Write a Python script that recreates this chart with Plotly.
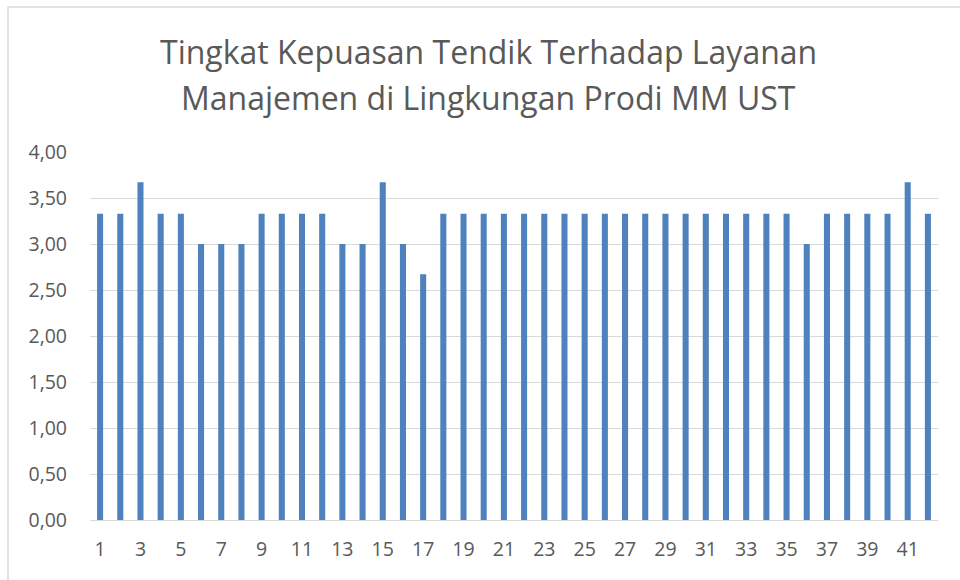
import plotly.graph_objects as go

respondents = list(range(1, 43))
scores = [3.33, 3.33, 3.67, 3.33, 3.33, 3.00, 3.00, 3.00, 3.33, 3.33,
          3.33, 3.33, 3.00, 3.00, 3.67, 3.00, 2.67, 3.33, 3.33, 3.33,
          3.33, 3.33, 3.33, 3.33, 3.33, 3.33, 3.33, 3.33, 3.33, 3.33,
          3.33, 3.33, 3.33, 3.33, 3.33, 3.00, 3.33, 3.33, 3.33, 3.33,
          3.67, 3.33]
x_ticks = list(range(1, 42, 2))
y_ticks = [0, 0.5, 1.0, 1.5, 2.0, 2.5, 3.0, 3.5, 4.0]
y_tick_labels = ["0,00", "0,50", "1,00", "1,50", "2,00", "2,50", "3,00", "3,50", "4,00"]

title_lines = ["Tingkat Kepuasan Tendik Terhadap Layanan",
               "Manajemen di Lingkungan Prodi MM UST"]

FONT = "Open Sans, Liberation Sans, sans-serif"
GREY = "#595959"

fig = go.Figure(go.Bar(x=respondents, y=scores, marker_color="#4F81BD",
                       marker_line_width=0, hoverinfo="x+y"))

annotations = []
for line, yc in zip(title_lines, [51, 97]):
    annotations.append(dict(text=line, xref="paper", yref="paper",
                            x=(488 - 90) / 848, y=(520 - yc) / 368,
                            xanchor="center", yanchor="middle", showarrow=False,
                            font=dict(family=FONT, size=32, color=GREY)))

fig.update_layout(
    width=960, height=580,
    paper_bgcolor="white", plot_bgcolor="white",
    margin=dict(l=90, r=22, t=152, b=60),
    bargap=0.7,
    showlegend=False,
    font=dict(family=FONT, color=GREY, size=19.5),
    annotations=annotations,
    xaxis=dict(range=[0.5, 42.5], tickvals=x_ticks, ticktext=[str(v) for v in x_ticks],
               showgrid=False, zeroline=False, showline=False, ticks="",
               tickfont=dict(family=FONT, size=19.5, color=GREY), ticklabelstandoff=15),
    yaxis=dict(range=[0, 4], tickvals=y_ticks, ticktext=y_tick_labels,
               showgrid=True, gridcolor="#D9D9D9", gridwidth=1.3,
               zeroline=True, zerolinecolor="#D9D9D9", zerolinewidth=1.3,
               showline=False, ticks="",
               tickfont=dict(family=FONT, size=19.5, color=GREY), ticklabelstandoff=22),
    shapes=[dict(type="rect", xref="paper", yref="paper",
                 x0=(8 - 90) / 848, x1=(970 - 90) / 848,
                 y0=(520 - 590) / 368, y1=(520 - 7) / 368,
                 line=dict(color="#D9D9D9", width=1.5), layer="below")],
)

fig.write_html("out.html", config={"displayModeBar": False},
               post_script="document.body.style.margin='0';document.body.style.padding='0';")
